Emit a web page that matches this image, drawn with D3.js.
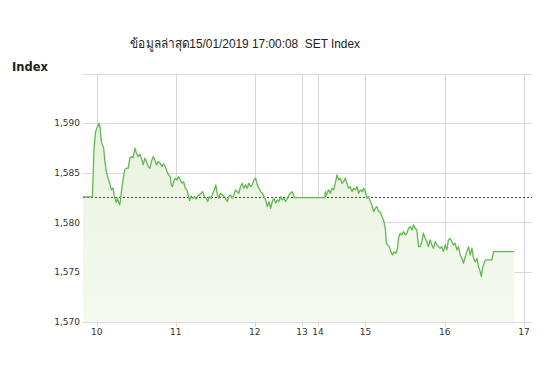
<!DOCTYPE html>
<html><head><meta charset="utf-8">
<script src="https://cdn.jsdelivr.net/npm/d3@7"></script>
<style>
html,body{margin:0;padding:0;background:#fff;}
svg{display:block;}
</style></head>
<body><svg id="c" width="550" height="367"></svg>
<script>
// ---- data (minutes since midnight, index value) ----
const titleText = "ข้อมูลล่าสุด15/01/2019 17:00:08  SET Index";
const yAxisTitle = "Index";
const prevClose = 1582.55;
const times = [589.6,596.8,597.9,599.1,600.2,601.0,601.8,602.5,603.5,605.3,606.1,607.3,608.6,609.9,611.1,612.4,613.2,614.2,614.9,615.7,616.8,617.5,618.8,620.0,621.3,622.6,623.9,625.2,626.4,627.7,629.0,630.2,631.5,632.8,634.0,635.3,636.6,637.8,639.1,640.4,641.6,642.9,644.2,645.4,646.7,648.2,649.5,650.8,652.1,653.4,654.6,655.9,656.6,657.6,658.4,659.7,661.0,662.2,663.5,664.8,666.0,667.3,668.6,669.8,670.6,671.6,672.9,674.2,675.5,676.7,678.0,679.3,680.5,681.8,683.1,684.3,685.6,686.9,688.1,689.4,690.4,691.5,692.7,694.0,695.3,696.5,697.8,699.1,700.3,701.6,702.9,704.1,705.4,706.7,707.9,709.2,710.5,711.7,713.0,714.3,715.6,716.8,718.1,719.4,720.7,722.0,723.2,724.5,725.8,727.0,728.3,729.6,730.8,732.1,733.4,734.6,735.9,737.2,738.4,739.7,741.0,742.2,743.5,744.8,746.0,747.3,748.6,749.8,750.0,
867.1,868.3,869.6,870.9,872.1,873.4,874.7,875.9,877.2,878.5,879.7,881.0,882.2,883.5,884.7,886.0,887.2,888.5,889.8,891.0,892.3,893.6,894.8,896.1,897.4,898.6,899.9,901.1,902.4,903.7,904.9,906.2,907.5,908.7,909.9,911.2,912.5,913.7,915.0,915.8,916.8,918.0,919.3,920.5,921.8,923.1,924.3,925.0,926.3,927.6,928.8,930.1,931.4,932.6,933.9,935.2,936.4,937.7,938.9,940.2,941.5,942.7,943.9,945.2,946.5,947.7,949.0,950.3,951.5,952.8,954.0,955.3,956.6,957.8,959.0,960.3,961.6,962.8,964.1,965.4,966.6,967.9,969.2,970.4,971.7,973.0,974.2,975.5,976.8,978.0,979.3,980.6,981.8,983.1,984.4,985.6,986.9,987.7,988.6,989.4,990.7,995.7,997.0,998.3,1012.7];
const values = [1582.57,1582.57,1587.31,1589.12,1589.53,1589.68,1589.98,1589.63,1588.14,1587.48,1586.30,1585.12,1584.45,1583.95,1583.28,1583.48,1582.77,1582.27,1582.04,1582.44,1581.94,1581.76,1583.10,1584.28,1585.29,1585.46,1585.46,1586.47,1586.63,1586.53,1587.48,1586.97,1586.63,1586.87,1586.47,1585.80,1586.47,1586.13,1585.62,1585.46,1586.13,1586.63,1586.30,1585.80,1586.13,1585.97,1585.62,1585.90,1585.62,1585.12,1584.79,1584.62,1583.78,1583.61,1584.11,1584.45,1584.28,1584.62,1584.28,1583.95,1584.11,1583.45,1583.28,1582.60,1582.20,1582.67,1582.44,1582.60,1582.34,1582.67,1582.77,1582.94,1583.10,1582.60,1582.44,1582.10,1582.60,1582.44,1582.94,1583.28,1583.78,1582.94,1582.44,1582.94,1582.77,1582.67,1582.44,1582.10,1582.60,1582.77,1582.44,1582.77,1583.28,1583.10,1582.94,1583.61,1583.95,1583.45,1583.78,1583.45,1583.95,1583.61,1583.78,1584.28,1584.45,1583.78,1583.45,1583.10,1582.94,1582.60,1582.27,1581.59,1582.10,1581.43,1582.10,1582.44,1581.94,1582.27,1582.10,1582.60,1582.27,1582.44,1582.10,1582.44,1582.77,1582.94,1583.10,1582.60,1582.50,
1582.50,1583.10,1582.60,1582.94,1583.28,1582.94,1583.45,1583.28,1583.95,1584.79,1584.28,1584.45,1583.95,1584.11,1584.45,1583.95,1583.45,1583.61,1583.10,1583.45,1583.28,1583.61,1582.94,1583.28,1583.10,1583.45,1583.10,1582.44,1582.60,1582.10,1581.76,1581.09,1581.43,1581.59,1581.09,1581.06,1580.58,1580.25,1579.41,1577.90,1577.73,1577.56,1577.06,1576.72,1577.06,1576.89,1577.40,1578.41,1578.91,1578.74,1579.07,1578.74,1578.91,1579.41,1579.58,1579.24,1579.75,1579.41,1579.24,1577.56,1577.56,1578.06,1578.91,1578.41,1578.06,1577.56,1578.24,1577.73,1577.40,1578.06,1577.73,1577.56,1577.40,1577.56,1577.06,1577.73,1577.23,1578.24,1578.41,1578.06,1577.73,1577.90,1577.23,1577.56,1576.72,1576.39,1575.89,1576.55,1577.06,1577.56,1576.72,1577.40,1576.39,1576.05,1576.39,1575.54,1575.04,1574.54,1575.38,1575.72,1576.22,1576.22,1577.06,1577.06,1577.06];
const xTicks = [600,660,720,780,840,900,960,1020];
const xTickLabels = ["10","11","12","13","14","15","16","17"];
const yTicks = [1570,1575,1580,1585,1590,1595];
const yDomain = [1570,1595];
const xBreaks = [600,750,870,1020];

// ---- layout ----
const svg = d3.select("#c");
const L = 83, R = 532, T = 73.5, B = 321.7;
const x = d3.scaleLinear().domain(xBreaks).range([96.7,294.2,325.8,524]);
const y = d3.scaleLinear().domain(yDomain).range([B,T]);
const data = times.map((t,i)=>({t, v: values[i]}));

const defs = svg.append("defs");
const g = defs.append("linearGradient").attr("id","fillg")
  .attr("gradientUnits","userSpaceOnUse").attr("x1",0).attr("x2",0).attr("y1",T).attr("y2",B);
g.append("stop").attr("offset","0%").attr("stop-color","#e5f0d9");
g.append("stop").attr("offset","100%").attr("stop-color","#f5f9f0");

// gridlines
const grid = svg.append("g");
grid.selectAll("line.h").data(yTicks).join("line")
  .attr("x1",L).attr("x2",R).attr("y1",d=>Math.round(y(d))+0.5).attr("y2",d=>Math.round(y(d))+0.5)
  .attr("stroke","#d9d9d9").attr("stroke-width",1);
grid.selectAll("line.v").data(xTicks).join("line")
  .attr("x1",d=>Math.round(x(d))+0.5).attr("x2",d=>Math.round(x(d))+0.5)
  .attr("y1",T).attr("y2",B+5)
  .attr("stroke","#d9d9d9").attr("stroke-width",1);

// area + line
const area = d3.area().x(d=>x(d.t)).y0(y(yDomain[0])).y1(d=>y(d.v));
svg.append("path").datum(data).attr("d",area).attr("fill","url(#fillg)");

// prev close dashed
svg.append("line").attr("x1",L).attr("x2",R)
  .attr("y1",Math.round(y(prevClose))+0.5).attr("y2",Math.round(y(prevClose))+0.5)
  .attr("stroke","#444").attr("stroke-width",1).attr("stroke-dasharray","2,2");

const line = d3.line().x(d=>x(d.t)).y(d=>y(d.v));
svg.append("path").datum(data).attr("d",line).attr("fill","none")
  .attr("stroke","#5fba4e").attr("stroke-width",1.3).attr("stroke-linejoin","round");

// y tick labels
svg.append("g").selectAll("text").data(yTicks.filter(d=>d<1595)).join("text")
  .attr("x",80).attr("y",d=>y(d)).attr("dy","0.35em").attr("text-anchor","end")
  .attr("font-family","Verdana, 'DejaVu Sans', sans-serif").attr("font-size",9).attr("fill","#333")
  .text(d=>d3.format(",")(d));

// x tick labels
svg.append("g").selectAll("text").data(xTicks).join("text")
  .attr("x",d=>x(d)).attr("y",335).attr("text-anchor","middle")
  .attr("font-family","Verdana, 'DejaVu Sans', sans-serif").attr("font-size",9).attr("fill","#333")
  .text((d,i)=>xTickLabels[i]);

// titles
svg.append("text").attr("x",12).attr("y",71)
  .attr("font-family","Verdana, 'DejaVu Sans', sans-serif").attr("font-size",11.5).attr("font-weight","bold").attr("fill","#222")
  .text(yAxisTitle);
svg.append("text").attr("x",130).attr("y",48)
  .attr("font-family","Tahoma, 'Liberation Sans', 'Noto Sans', sans-serif").attr("font-size",13).attr("fill","#222")
  .attr("textLength",230).attr("lengthAdjust","spacingAndGlyphs")
  .style("white-space","pre")
  .text(titleText);
</script></body></html>
